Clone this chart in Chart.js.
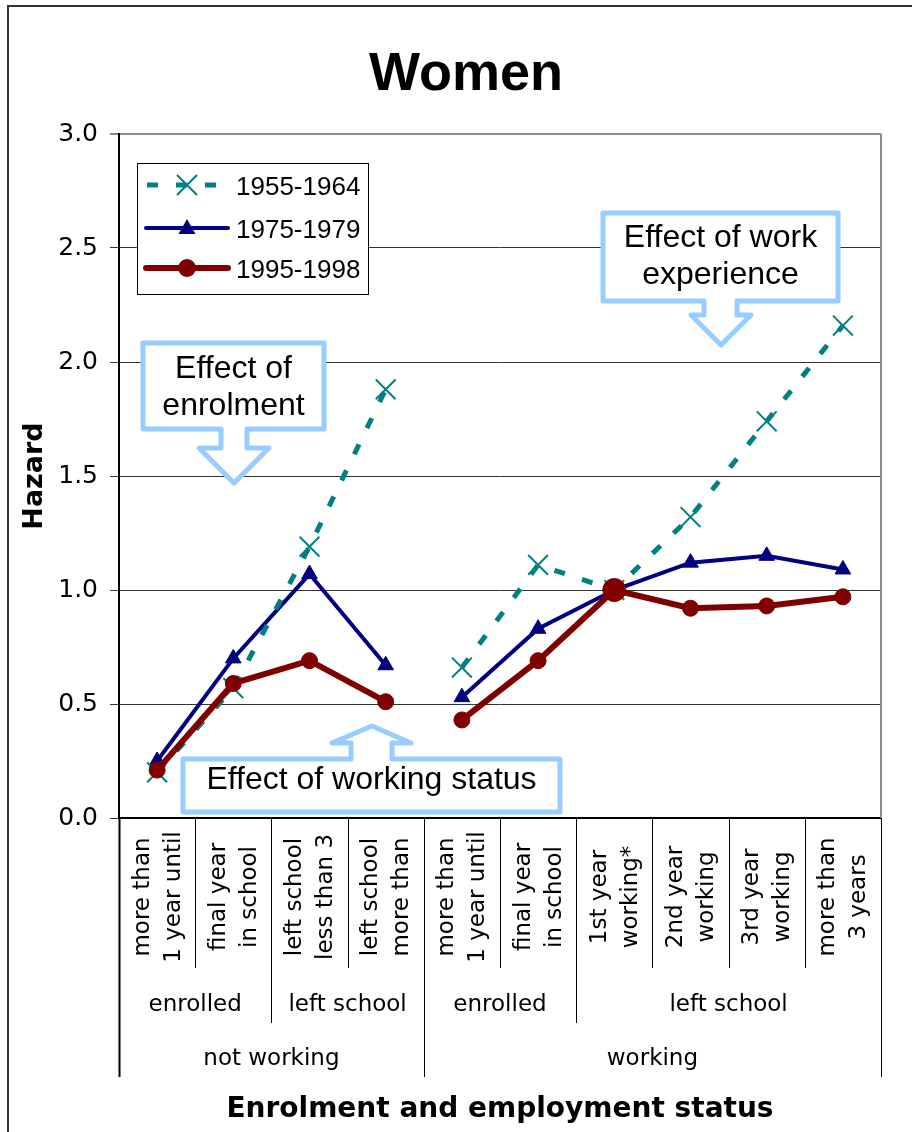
<!DOCTYPE html>
<html>
<head>
<meta charset="utf-8">
<script src="https://cdn.jsdelivr.net/npm/chart.js@4.4.1/dist/chart.umd.min.js"></script>
<style>
html, body { margin: 0; padding: 0; background: #ffffff; }
#wrap { width: 912px; height: 1132px; }
</style>
</head>
<body>
<div id="wrap"><canvas id="grafico" width="912" height="1132"></canvas></div>
<script>
// ----- Data -----
const categoryLabels = [
  ['more than', '1 year until'],
  ['final year', 'in school'],
  ['left school', 'less than 3'],
  ['left school', 'more than'],
  ['more than', '1 year until'],
  ['final year', 'in school'],
  ['1st year', 'working*'],
  ['2nd year', 'working'],
  ['3rd year', 'working'],
  ['more than', '3 years']
];
const schoolGroups = ['enrolled', 'left school', 'enrolled', 'left school'];
const schoolSpans = [2, 2, 2, 4];
const workGroups = ['not working', 'working'];
const workSpans = [4, 6];

const seriesNames = ['1955-1964', '1975-1979', '1995-1998'];
const hazard1955 = [0.20, 0.57, 1.19, 1.88, 0.66, 1.11, 1.00, 1.32, 1.74, 2.16];
const hazard1975 = [0.25, 0.70, 1.07, 0.67, 0.53, 0.83, 1.00, 1.12, 1.15, 1.09];
const hazard1995 = [0.21, 0.59, 0.69, 0.51, 0.43, 0.69, 1.00, 0.92, 0.93, 0.97];

const yMin = 0, yMax = 3, yStep = 0.5;
const breakAfter = 3;      // lines are not joined between the two work groups
const referenceIndex = 6;  // reference category (1st year working*)

const callouts = [
  { lines: ['Effect of', 'enrolment'], box: [143, 343, 324, 429], dir: 'down',
    stem: [221, 247], head: [199, 269], shoulder: 448, tip: [234, 483], baselines: [378, 415] },
  { lines: ['Effect of work', 'experience'], box: [603, 213, 838, 301], dir: 'down',
    stem: [704, 737], head: [691, 751], shoulder: 315, tip: [721, 345], baselines: [247, 284] },
  { lines: ['Effect of working status'], box: [183, 759, 560, 812], dir: 'up',
    stem: [351, 392], head: [332, 411], shoulder: 743, tip: [372, 726], baselines: [789] }
];

const TEAL = '#008080', NAVY = '#000080', MAROON = '#800000';

// ----- Helpers -----
function drawCallout(ctx, c) {
  const [x1, y1, x2, y2] = c.box;
  ctx.save();
  ctx.beginPath();
  if (c.dir === 'down') {
    ctx.moveTo(x1, y1);
    ctx.lineTo(x2, y1);
    ctx.lineTo(x2, y2);
    ctx.lineTo(c.stem[1], y2);
    ctx.lineTo(c.stem[1], c.shoulder);
    ctx.lineTo(c.head[1], c.shoulder);
    ctx.lineTo(c.tip[0], c.tip[1]);
    ctx.lineTo(c.head[0], c.shoulder);
    ctx.lineTo(c.stem[0], c.shoulder);
    ctx.lineTo(c.stem[0], y2);
    ctx.lineTo(x1, y2);
  } else {
    ctx.moveTo(x1, y2);
    ctx.lineTo(x2, y2);
    ctx.lineTo(x2, y1);
    ctx.lineTo(c.stem[1], y1);
    ctx.lineTo(c.stem[1], c.shoulder);
    ctx.lineTo(c.head[1], c.shoulder);
    ctx.lineTo(c.tip[0], c.tip[1]);
    ctx.lineTo(c.head[0], c.shoulder);
    ctx.lineTo(c.stem[0], c.shoulder);
    ctx.lineTo(c.stem[0], y1);
    ctx.lineTo(x1, y1);
  }
  ctx.closePath();
  ctx.fillStyle = '#ffffff';
  ctx.fill();
  ctx.lineWidth = 5;
  ctx.lineJoin = 'round';
  ctx.strokeStyle = '#99CCFF';
  ctx.stroke();
  ctx.fillStyle = '#000000';
  ctx.font = '32px "Liberation Sans", Arial, sans-serif';
  ctx.textAlign = 'center';
  ctx.textBaseline = 'alphabetic';
  const cx = (x1 + x2) / 2;
  c.lines.forEach((t, i) => ctx.fillText(t, cx, c.baselines[i]));
  ctx.restore();
}

function drawMarker(ctx, style, x, y, color) {
  ctx.save();
  ctx.fillStyle = color;
  ctx.strokeStyle = color;
  ctx.setLineDash([]);
  if (style === 'crossRot') {
    ctx.lineWidth = 2;
    ctx.beginPath();
    ctx.moveTo(x - 10, y - 10); ctx.lineTo(x + 10, y + 10);
    ctx.moveTo(x + 10, y - 10); ctx.lineTo(x - 10, y + 10);
    ctx.stroke();
  } else if (style === 'triangle') {
    ctx.beginPath();
    ctx.moveTo(x, y - 9);
    ctx.lineTo(x + 8.5, y + 6);
    ctx.lineTo(x - 8.5, y + 6);
    ctx.closePath();
    ctx.fill();
  } else {
    ctx.beginPath();
    ctx.arc(x, y, 9, 0, Math.PI * 2);
    ctx.fill();
  }
  ctx.restore();
}

function cumulative(spans) {
  const out = [0];
  spans.forEach(s => out.push(out[out.length - 1] + s));
  return out;
}

// ----- Plugin: frame, titles, multi-level axis, callouts, legend -----
const extras = {
  id: 'extras',
  beforeDraw(chart) {
    const ctx = chart.ctx;
    ctx.save();
    ctx.fillStyle = '#ffffff';
    ctx.fillRect(0, 0, chart.width, chart.height);
    ctx.strokeStyle = '#333333';
    ctx.lineWidth = 2;
    ctx.beginPath();
    ctx.moveTo(8, chart.height);
    ctx.lineTo(8, 6);
    ctx.lineTo(chart.width, 6);
    ctx.stroke();
    ctx.restore();
  },
  afterDatasetsDraw(chart) {
    callouts.forEach(c => drawCallout(chart.ctx, c));
  },
  afterDraw(chart) {
    const ctx = chart.ctx;
    const area = chart.chartArea;
    const xs = chart.scales.x;
    const n = categoryLabels.length;
    const colW = (area.right - area.left) / n;
    const edge = i => area.left + i * colW;

    ctx.save();
    // right border of the plot
    ctx.strokeStyle = '#8c8c8c';
    ctx.lineWidth = 2;
    ctx.beginPath();
    ctx.moveTo(area.right, area.top);
    ctx.lineTo(area.right, area.bottom);
    ctx.stroke();

    // separators below the axis
    const level1Bottom = 968, level2Bottom = 1023, level3Bottom = 1077;
    const schoolEdges = cumulative(schoolSpans);
    const workEdges = cumulative(workSpans);
    ctx.strokeStyle = '#000000';
    for (let i = 0; i <= n; i++) {
      let bottom = level1Bottom;
      if (workEdges.includes(i)) bottom = level3Bottom;
      else if (schoolEdges.includes(i)) bottom = level2Bottom;
      const x = Math.round(edge(i)) + 0.5;
      ctx.lineWidth = (i === 0) ? 2 : 1;
      ctx.beginPath();
      ctx.moveTo(x, area.bottom);
      ctx.lineTo(x, bottom);
      ctx.stroke();
    }

    // level 1 labels (rotated)
    ctx.fillStyle = '#000000';
    ctx.font = '23px "DejaVu Sans", Verdana, sans-serif';
    ctx.textAlign = 'center';
    ctx.textBaseline = 'middle';
    categoryLabels.forEach((lines, i) => {
      const cx = xs.getPixelForValue(i);
      lines.forEach((t, j) => {
        ctx.save();
        ctx.translate(cx + (j - (lines.length - 1) / 2) * 31 + 1, 897);
        ctx.rotate(-Math.PI / 2);
        ctx.fillText(t, 0, 0);
        ctx.restore();
      });
    });

    // level 2 and 3 labels
    schoolGroups.forEach((t, i) => {
      ctx.fillText(t, (edge(schoolEdges[i]) + edge(schoolEdges[i + 1])) / 2, 1005);
    });
    workGroups.forEach((t, i) => {
      ctx.fillText(t, (edge(workEdges[i]) + edge(workEdges[i + 1])) / 2, 1059);
    });

    // axis titles and chart title
    ctx.font = 'bold 28px "DejaVu Sans", Verdana, sans-serif';
    ctx.fillText('Enrolment and employment status', (area.left + area.right) / 2, 1110);
    ctx.save();
    ctx.font = 'bold 27px "DejaVu Sans", Verdana, sans-serif';
    ctx.translate(35, 476);
    ctx.rotate(-Math.PI / 2);
    ctx.fillText('Hazard', 0, 0);
    ctx.restore();
    ctx.font = 'bold 54px "Liberation Sans", Arial, sans-serif';
    ctx.textBaseline = 'alphabetic';
    ctx.fillText('Women', 466, 90);

    // legend
    ctx.fillStyle = '#ffffff';
    ctx.fillRect(137.5, 163.5, 231, 131);
    ctx.strokeStyle = '#000000';
    ctx.lineWidth = 1;
    ctx.strokeRect(137.5, 163.5, 231, 131);
    const rowsY = [185, 228, 268];
    chart.data.datasets.forEach((ds, i) => {
      const y = rowsY[i];
      ctx.save();
      ctx.strokeStyle = ds.borderColor;
      ctx.lineWidth = ds.borderWidth;
      ctx.lineCap = ds.borderDash ? 'butt' : 'round';
      ctx.setLineDash(ds.borderDash || []);
      ctx.beginPath();
      if (ds.borderDash) { ctx.moveTo(147, y); ctx.lineTo(220, y); }
      else { ctx.moveTo(146, y); ctx.lineTo(228, y); }
      ctx.stroke();
      ctx.restore();
      drawMarker(ctx, ds.pointStyle, 187, y, ds.borderColor);
      ctx.fillStyle = '#000000';
      ctx.font = '26px "Liberation Sans", Arial, sans-serif';
      ctx.textAlign = 'left';
      ctx.textBaseline = 'alphabetic';
      ctx.fillText(ds.label, 236, y + 10);
    });
    ctx.restore();
  }
};

// ----- Chart -----
const hideBreak = ctx => ctx.p0DataIndex === breakAfter ? 'rgba(0,0,0,0)' : undefined;

new Chart(document.getElementById('grafico'), {
  type: 'line',
  data: {
    labels: categoryLabels.map(l => l.join(' ')),
    datasets: [
      {
        label: seriesNames[0],
        data: hazard1955,
        borderColor: TEAL,
        backgroundColor: TEAL,
        borderWidth: 5,
        borderDash: [11, 18],
        pointStyle: 'crossRot',
        pointRadius: 14,
        pointBorderWidth: 2,
        tension: 0,
        order: 1,
        segment: { borderColor: hideBreak }
      },
      {
        label: seriesNames[1],
        data: hazard1975,
        borderColor: NAVY,
        backgroundColor: NAVY,
        borderWidth: 4,
        pointStyle: 'triangle',
        pointRadius: 9,
        pointBorderWidth: 1,
        tension: 0,
        order: 2,
        segment: { borderColor: hideBreak }
      },
      {
        label: seriesNames[2],
        data: hazard1995,
        borderColor: MAROON,
        backgroundColor: MAROON,
        borderWidth: 6,
        pointStyle: 'circle',
        pointRadius: ctx => ctx.dataIndex === referenceIndex ? 11.5 : 8,
        pointBorderWidth: 1,
        tension: 0,
        order: 0,
        segment: { borderColor: hideBreak }
      }
    ]
  },
  options: {
    responsive: false,
    animation: false,
    devicePixelRatio: 1,
    layout: { padding: { left: 0, top: 134, right: 31, bottom: 0 } },
    plugins: {
      legend: { display: false },
      tooltip: { enabled: false },
      title: { display: false }
    },
    scales: {
      x: {
        type: 'category',
        offset: true,
        grid: { display: false },
        ticks: { display: false },
        border: { color: '#000000', width: 2 },
        afterFit: s => { s.height = 1132 - 818; }
      },
      y: {
        min: yMin,
        max: yMax,
        ticks: {
          stepSize: yStep,
          color: '#000000',
          padding: 12,
          font: { family: '"DejaVu Sans", Verdana, sans-serif', size: 25 },
          callback: v => Number(v).toFixed(1)
        },
        grid: {
          color: ctx => ctx.tick && ctx.tick.value === yMax ? '#8c8c8c' : '#333333',
          lineWidth: ctx => ctx.tick && ctx.tick.value === yMax ? 2 : 1,
          tickLength: 9
        },
        border: { color: '#000000', width: 2 },
        afterFit: s => { s.width = 119; }
      }
    }
  },
  plugins: [extras]
});
</script>
</body>
</html>
